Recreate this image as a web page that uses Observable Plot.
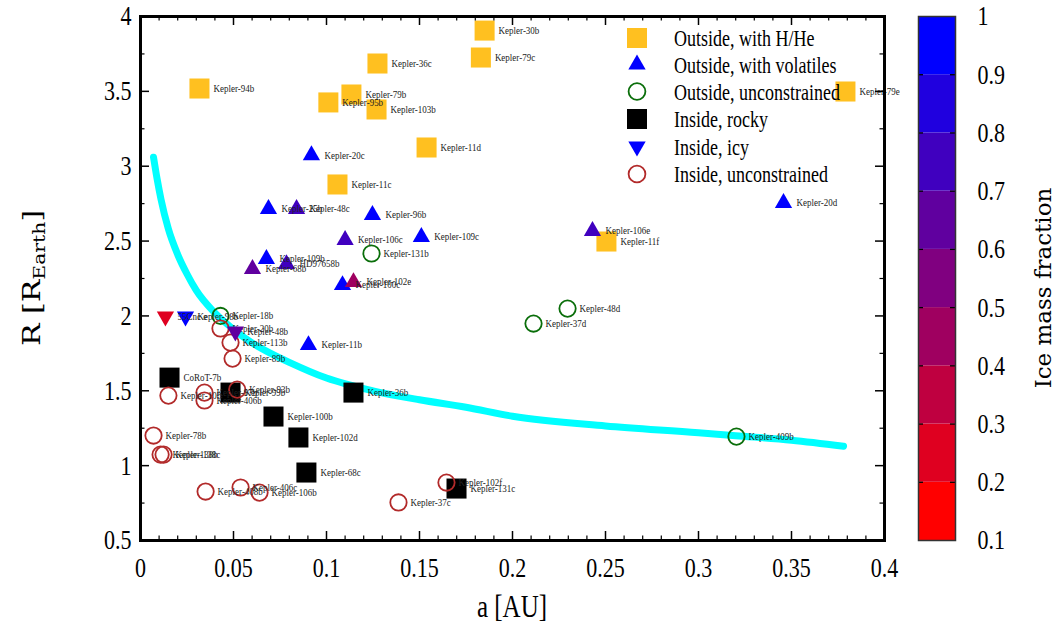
<!DOCTYPE html>
<html>
<head>
<meta charset="utf-8">
<script src="https://cdn.jsdelivr.net/npm/d3@7"></script>
<script src="https://cdn.jsdelivr.net/npm/@observablehq/plot@0.6"></script>
<style>
  body { margin: 0; background: #fff; }
  #wrap { position: relative; width: 1060px; height: 624px; font-family: "Liberation Serif", serif; }
  #wrap svg { position: absolute; top: 0; }
</style>
</head>
<body>
<div id="wrap"></div>
<script>
// ---------- data (name, a [AU], R [R_Earth], ice mass fraction) ----------
const outsideHHe = [
  ["Kepler-30b", 0.185, 3.906],
  ["Kepler-79c", 0.183, 3.726],
  ["Kepler-36c", 0.1274, 3.686],
  ["Kepler-94b", 0.0317, 3.519],
  ["Kepler-79b", 0.1134, 3.479],
  ["Kepler-95b", 0.101, 3.426],
  ["Kepler-103b", 0.1269, 3.379],
  ["Kepler-11d", 0.1538, 3.125],
  ["Kepler-11c", 0.1059, 2.878],
  ["Kepler-11f", 0.2505, 2.497],
  ["Kepler-79e", 0.379, 3.499]
];
const outsideVolatiles = [
  ["Kepler-20c", 0.0919, 3.073, 1.0],
  ["Kepler-20d", 0.3457, 2.754, 1.0],
  ["Kepler-106e", 0.243, 2.567, 0.78],
  ["Kepler-25b", 0.0688, 2.714, 1.0],
  ["Kepler-48c", 0.0839, 2.714, 0.72],
  ["Kepler-96b", 0.1247, 2.674, 1.0],
  ["Kepler-106c", 0.110, 2.507, 0.78],
  ["Kepler-109c", 0.151, 2.527, 1.0],
  ["Kepler-109b", 0.0677, 2.380, 1.0],
  ["HD97658b", 0.0785, 2.346, 0.72],
  ["Kepler-68b", 0.0602, 2.313, 0.65],
  ["Kepler-100c", 0.1086, 2.206, 1.0],
  ["Kepler-102e", 0.1145, 2.226, 0.45],
  ["Kepler-11b", 0.0903, 1.805, 1.0]
];
const outsideUnconstrained = [
  ["Kepler-18b", 0.043, 2.0],
  ["Kepler-131b", 0.1242, 2.417],
  ["Kepler-48d", 0.2296, 2.049],
  ["Kepler-37d", 0.2113, 1.949],
  ["Kepler-409b", 0.3204, 1.194]
];
const insideRocky = [
  ["CoRoT-7b", 0.0156, 1.588],
  ["Kepler-99b", 0.0484, 1.488],
  ["Kepler-100b", 0.0715, 1.328],
  ["Kepler-102d", 0.0849, 1.188],
  ["Kepler-68c", 0.0892, 0.954],
  ["Kepler-36b", 0.1145, 1.488],
  ["Kepler-131c", 0.1699, 0.847]
];
const insideIcy = [
  ["55Cnc e", 0.0134, 1.996, 0.25],
  ["Kepler-98b", 0.0242, 1.996, 1.0],
  ["Kepler-48b", 0.051, 1.896, 0.68]
];
const insideUnconstrained = [
  ["Kepler-20b", 0.043, 1.916],
  ["Kepler-113b", 0.0484, 1.822],
  ["Kepler-89b", 0.0495, 1.715],
  ["Kepler-10b", 0.015, 1.468],
  ["Kepler-97b", 0.0344, 1.488],
  ["Kepler-406b", 0.0344, 1.435],
  ["Kepler-93b", 0.052, 1.508],
  ["Kepler-78b", 0.007, 1.201],
  ["Kepler-138b", 0.0108, 1.074],
  ["Kepler-138c", 0.0124, 1.074],
  ["Kepler-408b", 0.035, 0.827],
  ["Kepler-406c", 0.0538, 0.854],
  ["Kepler-106b", 0.064, 0.82],
  ["Kepler-37c", 0.1387, 0.754],
  ["Kepler-102f", 0.1645, 0.887]
];
// boundary curve (a, R)
const boundaryCurve = [
  [0.007, 3.06], [0.009, 2.91], [0.011, 2.78], [0.015, 2.58], [0.02, 2.41],
  [0.025, 2.28], [0.03, 2.17], [0.04, 2.02], [0.05, 1.91], [0.06, 1.82],
  [0.07, 1.75], [0.08, 1.69], [0.1, 1.585], [0.125, 1.50], [0.15, 1.44],
  [0.175, 1.39], [0.2, 1.33], [0.25, 1.265], [0.3, 1.22], [0.32, 1.20],
  [0.35, 1.17], [0.378, 1.13]
];
const legendLabels = ["Outside, with H/He", "Outside, with volatiles", "Outside, unconstrained",
                      "Inside, rocky", "Inside, icy", "Inside, unconstrained"];
const xMajorTicks = [0, 0.05, 0.1, 0.15, 0.2, 0.25, 0.3, 0.35, 0.4];
const yMajorTicks = [0.5, 1, 1.5, 2, 2.5, 3, 3.5, 4];
const yMinorTicks = [0.75, 1.25, 1.75, 2.25, 2.75, 3.25, 3.75];
const iceSteps = [0.1, 0.2, 0.3, 0.4, 0.5, 0.6, 0.7, 0.8, 0.9];
const iceTickLabels = [0.1, 0.2, 0.3, 0.4, 0.5, 0.6, 0.7, 0.8, 0.9, 1];
const iceThresholds = [0.2, 0.3, 0.4, 0.5, 0.6, 0.7, 0.8, 0.9];

// ---------- styling ----------
const FONT = "'Liberation Serif', 'Times New Roman', serif";
const TITLEFONT = "'DejaVu Serif', serif";
const ORANGE = "#ffc020", GREEN = "#0a6e0a", BROWN = "#b22a2a";
const iceColors = d3.quantize(d3.interpolateRgb("#ff0000", "#0000ff"), 9);
const colorOpts = {type: "threshold", domain: iceThresholds, range: iceColors};
const xMinorTicks = d3.range(0, 41).map(i => i / 100).filter(v => Math.round(v * 100) % 5 !== 0);

const W = 900, H = 624, ML = 140, MR = 16, MT = 16, MB = 84;
const PW = W - ML - MR, PH = H - MT - MB;
const X = d => d[1], Y = d => d[2], T = d => d[0];
const lbl = (data, dx) => Plot.text(data, {x: X, y: Y, text: T, dx, textAnchor: "start",
  fontSize: 9, fill: "#222", lineAnchor: "middle"});

const main = Plot.plot({
  width: W, height: H,
  marginLeft: ML, marginRight: MR, marginTop: MT, marginBottom: MB,
  x: {domain: [0, 0.4]},
  y: {domain: [0.5, 4]},
  color: colorOpts,
  style: {fontFamily: FONT, background: "white", overflow: "visible"},
  marks: [
    Plot.line(boundaryCurve, {x: d => d[0], y: d => d[1], stroke: "#00ffff", strokeWidth: 7, curve: "monotone-x"}),
    Plot.dot(outsideHHe, {x: X, y: Y, symbol: "square", r: 11.3, fill: ORANGE}),
    lbl(outsideHHe, 14),
    Plot.dot(outsideVolatiles, {x: X, y: Y, symbol: "triangle", r: 6.4, fill: d => d[3]}),
    lbl(outsideVolatiles, 13),
    Plot.dot(outsideUnconstrained, {x: X, y: Y, symbol: "circle", r: 8.2, fill: "none", stroke: GREEN, strokeWidth: 1.8}),
    lbl(outsideUnconstrained, 12),
    Plot.dot(insideRocky, {x: X, y: Y, symbol: "square", r: 11.3, fill: "black"}),
    lbl(insideRocky, 14),
    Plot.dot(insideUnconstrained, {x: X, y: Y, symbol: "circle", r: 8.2, fill: "none", stroke: BROWN, strokeWidth: 1.8}),
    lbl(insideUnconstrained, 12),
    Plot.dot(insideIcy, {x: X, y: Y, symbol: "triangle", r: 6.4, rotate: 180, fill: d => d[3]}),
    lbl(insideIcy, 12),
    // inward ticks on all four sides
    Plot.tickX(xMajorTicks, {x: d => d, insetTop: PH - 9, stroke: "black", strokeWidth: 1.5}),
    Plot.tickX(xMajorTicks, {x: d => d, insetBottom: PH - 9, stroke: "black", strokeWidth: 1.5}),
    Plot.tickX(xMinorTicks, {x: d => d, insetTop: PH - 4.5, stroke: "black", strokeWidth: 1.2}),
    Plot.tickX(xMinorTicks, {x: d => d, insetBottom: PH - 4.5, stroke: "black", strokeWidth: 1.2}),
    Plot.tickY(yMajorTicks, {y: d => d, insetRight: PW - 9, stroke: "black", strokeWidth: 1.5}),
    Plot.tickY(yMajorTicks, {y: d => d, insetLeft: PW - 9, stroke: "black", strokeWidth: 1.5}),
    Plot.tickY(yMinorTicks, {y: d => d, insetRight: PW - 4.5, stroke: "black", strokeWidth: 1.2}),
    Plot.tickY(yMinorTicks, {y: d => d, insetLeft: PW - 4.5, stroke: "black", strokeWidth: 1.2}),
    Plot.frame({stroke: "black", strokeWidth: 3}),
    Plot.axisX(xMajorTicks, {tickSize: 0, tickPadding: 17, fontSize: 22, label: null,
      tickFormat: d => String(+d.toFixed(2))}),
    Plot.axisY(yMajorTicks, {tickSize: 0, tickPadding: 9, fontSize: 22, label: null,
      tickFormat: d => String(+d.toFixed(1))})
  ]
});

const cbar = Plot.plot({
  width: 160, height: H,
  marginLeft: 18, marginRight: 105, marginTop: MT, marginBottom: MB,
  x: {domain: [0, 1], axis: null},
  y: {domain: [0.1, 1]},
  color: colorOpts,
  style: {fontFamily: FONT, background: "white", overflow: "visible"},
  marks: [
    Plot.rect(iceSteps, {x1: 0, x2: 1, y1: d => d, y2: d => d + 0.1, fill: d => d + 0.05}),
    Plot.tickY(iceThresholds, {y: d => d, insetRight: 32, stroke: "black", strokeWidth: 1.3}),
    Plot.tickY(iceThresholds, {y: d => d, insetLeft: 32, stroke: "black", strokeWidth: 1.3}),
    Plot.frame({stroke: "#333", strokeWidth: 1.5}),
    Plot.axisY(iceTickLabels, {anchor: "right", tickSize: 0, tickPadding: 22, fontSize: 22, label: null,
      tickFormat: d => d === 1 ? "1" : d.toFixed(1)})
  ]
});

const wrap = document.getElementById("wrap");
main.style.left = "0px";
cbar.style.left = "900px";
wrap.appendChild(main);
wrap.appendChild(cbar);

// vertical stretch of glyphs to match the reference's tall lettering
function stretch(nodes, k) {
  nodes.forEach(node => {
    const t = node.getAttribute("transform");
    if (t) node.setAttribute("transform", t + ` scale(1,${k})`);
    else {
      const x = +node.getAttribute("x") || 0, y = +node.getAttribute("y") || 0;
      node.removeAttribute("x"); node.removeAttribute("y");
      node.setAttribute("transform", `translate(${x},${y}) scale(1,${k})`);
    }
  });
}
const labelTexts = new Set(main.querySelectorAll('g[aria-label="text"] text'));
stretch([...labelTexts], 1.15);
stretch([...main.querySelectorAll("text")].filter(n => !labelTexts.has(n)), 1.27);
stretch([...cbar.querySelectorAll("text")], 1.27);

// legend
const lg = d3.select(main).append("g").attr("font-family", FONT).attr("text-anchor", "start");
const symX = 637, textX = 674, rowY = [38, 64.5, 91.5, 119, 146.5, 174];
const sq = d3.symbol(d3.symbolSquare, 400)();
const tri = d3.symbol(d3.symbolTriangle, 130)();
const legendSyms = [
  g => g.append("path").attr("d", sq).attr("fill", ORANGE),
  g => g.append("path").attr("d", tri).attr("fill", "#0000ff"),
  g => g.append("circle").attr("r", 8.4).attr("fill", "none").attr("stroke", GREEN).attr("stroke-width", 1.8),
  g => g.append("path").attr("d", sq).attr("fill", "black"),
  g => g.append("path").attr("d", tri).attr("fill", "#0000ff").attr("transform", "rotate(180)"),
  g => g.append("circle").attr("r", 8.4).attr("fill", "none").attr("stroke", BROWN).attr("stroke-width", 1.8)
];
legendLabels.forEach((txt, i) => {
  const g = lg.append("g").attr("transform", `translate(${symX},${rowY[i]})`);
  legendSyms[i](g);
  lg.append("text").attr("transform", `translate(${textX},${rowY[i]}) scale(1,1.27)`)
    .attr("text-anchor", "start")
    .attr("dy", "0.35em").attr("font-size", 18).attr("fill", "black").text(txt);
});

// axis titles
d3.select(main).append("text")
  .attr("transform", `translate(${ML + PW / 2},606) scale(1,1.25)`)
  .attr("text-anchor", "middle").attr("dy", "0.35em")
  .attr("font-family", FONT).attr("font-size", 25).attr("fill", "black").text("a [AU]");

const yt = d3.select(main).append("text")
  .attr("transform", `translate(31,${MT + PH / 2}) rotate(-90) scale(1.2,1)`)
  .attr("text-anchor", "middle").attr("dy", "0.35em")
  .attr("font-family", TITLEFONT).attr("font-size", 25).attr("fill", "black");
yt.append("tspan").text("R [R");
yt.append("tspan").attr("font-size", 17).attr("dy", 5).text("Earth");
yt.append("tspan").attr("dy", -5).text("]");

d3.select(cbar).append("text")
  .attr("transform", `translate(143,${MT + PH / 2 + 10}) rotate(-90)`)
  .attr("text-anchor", "middle").attr("dy", "0.35em")
  .attr("font-family", TITLEFONT).attr("font-size", 23).attr("fill", "black").text("Ice mass fraction");
</script>
</body>
</html>
